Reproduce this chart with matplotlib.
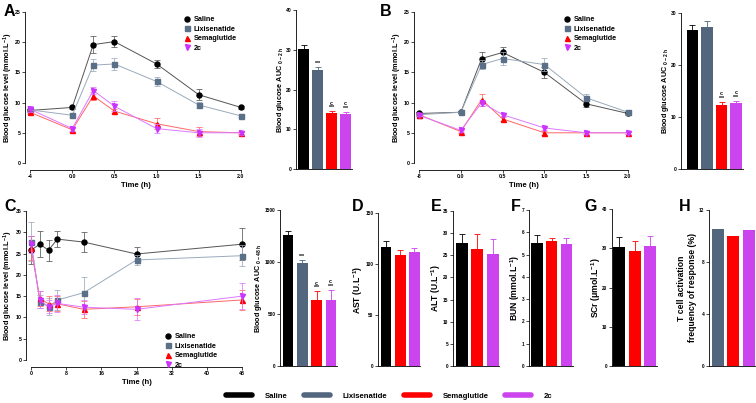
import numpy as np
import matplotlib
matplotlib.use('Agg')
import matplotlib.pyplot as plt
from matplotlib.lines import Line2D

plt.rcParams['font.family'] = ['Liberation Sans', 'DejaVu Sans']
plt.rcParams['font.weight'] = 'bold'
plt.rcParams['mathtext.fontset'] = 'custom'
plt.rcParams['mathtext.rm'] = 'Liberation Sans:bold'
plt.rcParams['mathtext.it'] = 'Liberation Sans:bold'
plt.rcParams['mathtext.bf'] = 'Liberation Sans:bold'
plt.rcParams['mathtext.default'] = 'regular'
plt.rcParams['axes.linewidth'] = 0.6

# ---------------- data ----------------
groups = ['Saline', 'Lixisenatide', 'Semaglutide', '2c']
bar_colors = ['#000000', '#52667D', '#FF0000', '#CC44EE']
line_colors = ['#555555', '#9AAABB', '#FF6666', '#DD77FF']
mark_colors = ['#000000', '#5A7088', '#FF0000', '#CC33FF']
markers = ['o', 's', '^', 'v']

A_time = [-4, 0, 0.25, 0.5, 1.0, 1.5, 2.0]
A_saline = [8.7, 9.2, 19.6, 20.1, 16.4, 11.3, 9.2]
A_saline_err = [0.3, 0.2, 1.4, 0.9, 0.6, 0.9, 0.3]
A_lixi = [8.8, 7.9, 16.2, 16.4, 13.5, 9.6, 7.8]
A_lixi_err = [0.4, 0.3, 1.0, 1.0, 0.7, 0.5, 0.2]
A_sema = [8.4, 5.5, 11.1, 8.6, 6.5, 5.2, 5.0]
A_sema_err = [0.3, 0.3, 0.6, 0.4, 0.9, 0.8, 0.2]
A_2c = [8.9, 5.7, 12.0, 9.4, 5.7, 5.0, 5.0]
A_2c_err = [0.5, 0.4, 0.6, 0.8, 0.8, 0.7, 0.3]
A_auc = [30.1, 24.9, 14.1, 13.9]
A_auc_err = [1.2, 0.7, 0.4, 0.4]

B_time = [-8, 0, 0.25, 0.5, 1.0, 1.5, 2.0]
B_saline = [8.2, 8.4, 17.3, 18.3, 15.0, 9.8, 8.2]
B_saline_err = [0.3, 0.2, 1.1, 0.9, 0.9, 0.5, 0.3]
B_lixi = [8.0, 8.4, 16.3, 17.3, 16.3, 10.8, 8.4]
B_lixi_err = [0.2, 0.2, 0.8, 1.0, 1.1, 0.6, 0.3]
B_sema = [8.0, 5.2, 10.5, 7.3, 5.0, 5.0, 5.0]
B_sema_err = [0.2, 0.2, 1.0, 0.3, 0.3, 0.2, 0.2]
B_2c = [7.9, 5.4, 10.0, 8.0, 5.8, 5.0, 5.0]
B_2c_err = [0.2, 0.2, 0.5, 0.3, 0.3, 0.2, 0.2]
B_auc = [26.8, 27.3, 12.4, 12.6]
B_auc_err = [0.8, 1.2, 0.5, 0.5]

C_time = [0, 2, 4, 6, 12, 24, 48]
C_saline = [25.8, 27.2, 25.8, 28.4, 27.7, 24.9, 27.2]
C_saline_err = [3.3, 3.0, 2.5, 1.8, 2.4, 1.7, 3.7]
C_lixi = [27.8, 13.7, 12.5, 14.1, 15.8, 23.5, 24.5]
C_lixi_err = [4.5, 1.5, 2.0, 2.4, 3.7, 1.1, 2.5]
C_sema = [26.3, 14.5, 13.2, 13.2, 11.9, 12.5, 14.1]
C_sema_err = [2.8, 1.8, 1.8, 1.8, 2.0, 1.9, 2.4]
C_2c = [27.2, 14.1, 12.5, 13.3, 12.4, 11.9, 15.0]
C_2c_err = [2.0, 2.0, 1.5, 2.0, 1.7, 2.6, 3.0]
C_auc = [1256, 990, 638, 635]
C_auc_err = [40, 30, 80, 95]

D_ast = [117, 109, 112]
D_ast_err = [6, 5, 3.5]
E_alt = [27.7, 26.5, 25.4]
E_alt_err = [2.2, 3.2, 3.3]
F_bun = [5.50, 5.62, 5.46]
F_bun_err = [0.38, 0.14, 0.27]
G_scr = [30.4, 29.3, 30.6]
G_scr_err = [2.4, 2.6, 2.6]
H_tcell = [10.54, 10.0, 10.46]

A_xticklabels = ['-4', '0.0', '0.5', '1.0', '1.5', '2.0']
B_xticklabels = ['-8', '0.0', '0.5', '1.0', '1.5', '2.0']

# ---------------- layout helpers ----------------
W, H = 756, 403
fig = plt.figure(figsize=(W / 100, H / 100), dpi=100)
PX = 72 / 100.0  # points per pixel


def add_ax(l, t, r, b):
    return fig.add_axes([l / W, 1 - b / H, (r - l) / W, (b - t) / H])


def style(ax, left_off=0, bottom_off=0, tick_fs=4):
    ax.spines['top'].set_visible(False)
    ax.spines['right'].set_visible(False)
    ax.spines['left'].set_position(('outward', left_off * PX))
    ax.spines['bottom'].set_position(('outward', bottom_off * PX))
    ax.tick_params(direction='out', length=2, width=0.5, labelsize=tick_fs, pad=1.2)
    ax.patch.set_visible(False)


def place_ylabel(ax, box, text, fs, center_x):
    ax.set_ylabel(text, fontsize=fs, fontweight='bold')
    ax.yaxis.label.set_verticalalignment('center')
    ax.yaxis.set_label_coords((center_x - box[0]) / (box[2] - box[0]), 0.5)


def panel_letter(x, y, s):
    fig.text(x / W, 1 - y / H, s, fontsize=11.5, fontweight='bold', ha='left', va='center')


def line_panel(box, xpos, series, errs, xlim, ylim, yticks, xticks, xticklabels,
               leg_anchor, ylabel_x):
    ax = add_ax(*box)
    for i in range(4):
        ax.errorbar(xpos, series[i], yerr=errs[i], fmt='none', ecolor=line_colors[i],
                    elinewidth=0.6, capsize=2, capthick=0.6, clip_on=False, alpha=0.9)
        ax.plot(xpos, series[i], color=line_colors[i], lw=0.7, clip_on=False)
        ax.plot(xpos, series[i], linestyle='none', marker=markers[i], ms=3.6,
                color=mark_colors[i], clip_on=False, label=groups[i])
    ax.set_xlim(*xlim)
    ax.set_ylim(*ylim)
    ax.set_yticks(yticks)
    ax.set_xticks(xticks)
    ax.set_xticklabels(xticklabels)
    style(ax, left_off=5, bottom_off=7, tick_fs=3.8)
    ax.set_xlabel('Time (h)', fontsize=5.5, fontweight='bold', labelpad=2)
    place_ylabel(ax, box, 'Blood glucose level (mmol.L$^{-1}$)', 5.3, ylabel_x)
    ax.legend(loc='upper left', bbox_to_anchor=(leg_anchor[0] / W, 1 - leg_anchor[1] / H),
              bbox_transform=fig.transFigure, frameon=False,
              handlelength=0.8, handletextpad=0.5, labelspacing=0.35, borderpad=0,
              borderaxespad=0, prop={'weight': 'bold', 'size': 5.2})
    return ax


def bar_panel(box, values, errs, colors, xlim, ylim, yticks, ylabel, ylabel_x,
              label_fs=5.2, width=0.78, stars=None, tick_fs=4):
    ax = add_ax(*box)
    x = np.arange(len(values))
    ax.bar(x, values, width=width, color=colors, edgecolor='none')
    if errs is not None:
        for xi, v, e, c in zip(x, values, errs, colors):
            ax.errorbar([xi], [v], yerr=[[0], [e]], fmt='none', ecolor=c,
                        elinewidth=0.6, capsize=2, capthick=0.6)
    ax.set_xlim(*xlim)
    ax.set_ylim(*ylim)
    ax.set_yticks(yticks)
    ax.set_xticks([])
    style(ax, tick_fs=tick_fs)
    place_ylabel(ax, box, ylabel, label_fs, ylabel_x)
    if stars:
        for i, txt in stars.items():
            top = values[i] + errs[i]
            ax.annotate(txt, (i, top), xytext=(0, 0.8), textcoords='offset points',
                        ha='center', va='bottom', fontsize=3.8, fontweight='bold',
                        linespacing=0.9)
    return ax


# ---------------- Panel A ----------------
A_pos = [(-0.5 if t < 0 else t) for t in A_time]
line_panel((30, 12, 241, 163), A_pos, [A_saline, A_lixi, A_sema, A_2c],
           [A_saline_err, A_lixi_err, A_sema_err, A_2c_err],
           (-0.5, 2.0), (0, 25), [0, 5, 10, 15, 20, 25],
           [-0.5, 0, 0.5, 1.0, 1.5, 2.0], A_xticklabels, (184, 16), 8.5)
bar_panel((296, 10, 352, 169), A_auc, A_auc_err, bar_colors, (-0.55, 3.45), (0, 40),
          [0, 10, 20, 30, 40], 'Blood glucose AUC $_{0-2\\ h}$', 280,
          stars={1: '***', 2: 'c\n***', 3: 'c\n***'}, tick_fs=3.6)
panel_letter(4, 12, 'A')

# ---------------- Panel B ----------------
B_pos = [(-0.5 if t < 0 else t) for t in B_time]
line_panel((419, 12, 628, 163), B_pos, [B_saline, B_lixi, B_sema, B_2c],
           [B_saline_err, B_lixi_err, B_sema_err, B_2c_err],
           (-0.5, 2.0), (0, 25), [0, 5, 10, 15, 20, 25],
           [-0.5, 0, 0.5, 1.0, 1.5, 2.0], B_xticklabels, (564, 16), 397)
bar_panel((681, 13, 743, 169), B_auc, B_auc_err, bar_colors, (-0.78, 3.47), (0, 30),
          [0, 10, 20, 30], 'Blood glucose AUC $_{0-2\\ h}$', 665.5,
          stars={2: 'c\n***', 3: 'c\n***'}, tick_fs=3.6)
panel_letter(380, 12, 'B')

# ---------------- Panel C ----------------
line_panel((31, 211, 242, 360), C_time, [C_saline, C_lixi, C_sema, C_2c],
           [C_saline_err, C_lixi_err, C_sema_err, C_2c_err],
           (0, 48), (0, 35), [0, 5, 10, 15, 20, 25, 30, 35],
           [0, 8, 16, 24, 32, 40, 48], ['0', '8', '16', '24', '32', '40', '48'],
           (165, 333), 8.5)
bar_panel((280, 210, 337, 366), C_auc, C_auc_err, bar_colors, (-0.59, 3.45), (0, 1500),
          [0, 500, 1000, 1500], 'Blood glucose AUC $_{0-48\\ h}$', 258,
          width=0.72, stars={1: '***', 2: 'c\n***', 3: 'c\n***'}, tick_fs=3.4)
panel_letter(4, 206, 'C')

# ---------------- Panels D-H ----------------
three = [bar_colors[0], bar_colors[2], bar_colors[3]]
bar_panel((378, 213, 420, 366), D_ast, D_ast_err, three, (-0.57, 2.42), (0, 150),
          [0, 50, 100, 150], 'AST (U.L$^{-1}$)', 358, label_fs=6.2, tick_fs=3.4)
panel_letter(352, 207, 'D')
bar_panel((453, 211, 499, 366), E_alt, E_alt_err, three, (-0.59, 2.42), (0, 35),
          [0, 5, 10, 15, 20, 25, 30, 35], 'ALT (U.L$^{-1}$)', 436, label_fs=6.2,
          tick_fs=3.4)
panel_letter(431, 207, 'E')
bar_panel((529, 210, 573, 366), F_bun, F_bun_err, three, (-0.54, 2.45), (0, 7),
          [0, 1, 2, 3, 4, 5, 6, 7], 'BUN (mmol.L$^{-1}$)', 515, label_fs=6.2,
          tick_fs=3.4)
panel_letter(511, 207, 'F')
bar_panel((612, 209, 657, 366), G_scr, G_scr_err, three, (-0.47, 2.45), (0, 40),
          [0, 10, 20, 30, 40], 'SCr (\u03bcmol.L$^{-1}$)', 596, label_fs=6.2,
          tick_fs=3.4)
panel_letter(584, 207, 'G')
bar_panel((709, 210, 755, 366), H_tcell, None, bar_colors[1:], (-0.58, 2.4), (0, 12),
          [0, 4, 8, 12], 'T cell activation\nfrequency of response (%)', 687,
          label_fs=6.2, tick_fs=3.4)
panel_letter(679, 207, 'H')

# ---------------- bottom legend ----------------
handles = [Line2D([0], [0], color=c, lw=4, solid_capstyle='round') for c in bar_colors]
fig.legend(handles, groups, loc='center', bbox_to_anchor=(389 / W, 1 - 396 / H),
           ncol=4, frameon=False, handlelength=3.4, handletextpad=1.6,
           columnspacing=2.1, prop={'weight': 'bold', 'size': 5.6})

fig.savefig('out.png', dpi=100)
